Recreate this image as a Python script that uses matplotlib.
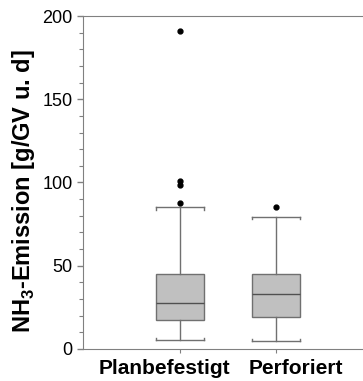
import matplotlib
matplotlib.use("Agg")
import matplotlib.pyplot as plt
from matplotlib.ticker import MultipleLocator
from matplotlib.transforms import ScaledTranslation

plt.rcParams['font.family'] = ['Liberation Sans', 'DejaVu Sans']
plt.rcParams['mathtext.fontset'] = 'custom'
plt.rcParams['mathtext.rm'] = 'Liberation Sans'
plt.rcParams['mathtext.bf'] = 'Liberation Sans:bold'

## data ##
categories = ["Planbefestigt", "Perforiert"]
q1 = [17.2, 19.2]
medians = [27.4, 32.8]
q3 = [45.0, 45.0]
whisker_low = [5.2, 4.6]
whisker_high = [85.0, 79.5]
outliers = [[87.5, 98.3, 101.1, 191.0], [85.0]]

stats = []
for i, name in enumerate(categories):
    stats.append({'label': name, 'q1': q1[i], 'med': medians[i], 'q3': q3[i],
                  'whislo': whisker_low[i], 'whishi': whisker_high[i],
                  'fliers': outliers[i]})

edge = "#707070"
fig = plt.figure(figsize=(3.63, 3.81), dpi=100)
ax = fig.add_axes([0.2287, 0.084, 0.7713, 0.874])

bp = ax.bxp(stats, positions=[1, 2], widths=0.5, patch_artist=True,
            boxprops=dict(facecolor="#c0c0c0", edgecolor=edge, linewidth=1),
            medianprops=dict(color="#505050", linewidth=1),
            whiskerprops=dict(color=edge, linewidth=1),
            capprops=dict(color=edge, linewidth=1), capwidths=0.5,
            flierprops=dict(marker='o', markersize=3.5, markerfacecolor='black',
                            markeredgecolor='black'))

# small hooks at the cap ends, pointing towards the box
for k, cap in enumerate(bp['caps']):
    xs = cap.get_xdata()
    y = cap.get_ydata()[0]
    d = 1.5 if k % 2 == 0 else -1.5
    for x in (xs[0], xs[-1]):
        ax.plot([x, x], [y, y + d], color=edge, linewidth=1)

ax.set_xlim(-0.01, 2.906)
ax.set_ylim(0, 200)
ax.yaxis.set_major_locator(MultipleLocator(50))
ax.yaxis.set_minor_locator(MultipleLocator(10))
ax.set_xticks([1, 2])
ax.set_xticklabels([])
# category labels sit a bit off their ticks in the original
for pos, (name, dx) in enumerate(zip(categories, [-16, 20]), start=1):
    tr = ax.get_xaxis_transform() + ScaledTranslation(dx / 100, -0.10, fig.dpi_scale_trans)
    ax.text(pos, 0, name, transform=tr, ha='center', va='top',
            fontsize=15, fontweight='bold')
ax.tick_params(axis='y', labelsize=13, color="#808080", length=4, width=1)
ax.tick_params(axis='y', which='minor', color="#808080", length=3, width=0.8)
ax.tick_params(axis='x', color="#808080", length=3, width=0.8)
for s in ['left', 'top', 'bottom']:
    ax.spines[s].set_color("#808080")
ax.spines['right'].set_visible(False)

ax.set_ylabel(r"NH$_\mathregular{3}$-Emission [g/GV u. d]", fontsize=17,
              fontweight='bold')
ax.yaxis.set_label_coords(-0.164, 0.473)

fig.savefig("out.png", dpi=100)
